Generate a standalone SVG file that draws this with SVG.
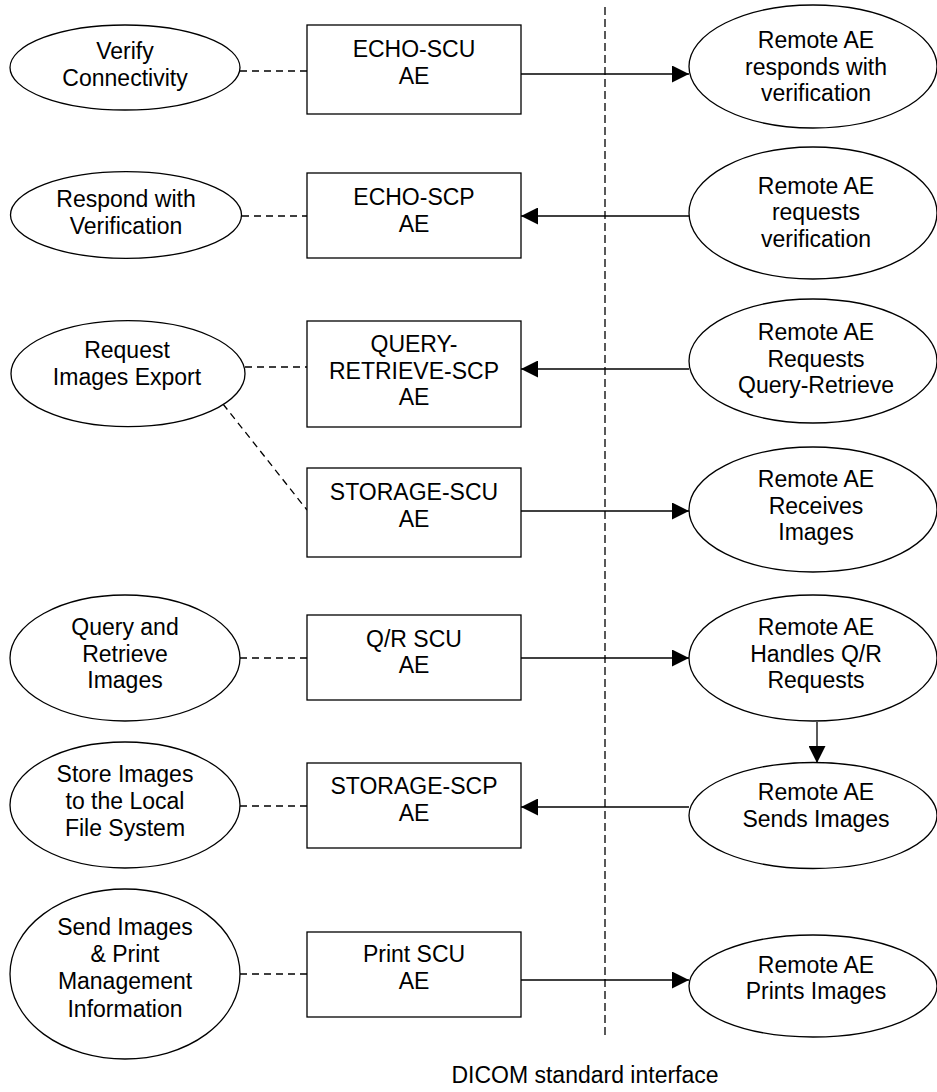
<svg xmlns="http://www.w3.org/2000/svg" width="937" height="1092" viewBox="0 0 937 1092">
<style>
.n{fill:#fff;stroke:#000;stroke-width:1.3}
.t{font-family:"Liberation Sans",Arial,sans-serif;font-size:23px;fill:#000;text-anchor:middle}
.d{fill:none;stroke:#000;stroke-width:1.3;stroke-dasharray:7 5}
.a{fill:none;stroke:#000;stroke-width:1.3;marker-end:url(#ah)}
</style>
<defs>
<marker id="ah" viewBox="0 0 17 17" refX="17" refY="8.5" markerWidth="17" markerHeight="17" markerUnits="userSpaceOnUse" orient="auto">
<path d="M0,0 L17,8.5 L0,17 z" fill="#000"/>
</marker>
</defs>
<rect width="937" height="1092" fill="#fff"/>
<g id="connectors">
<line x1="605" y1="7" x2="605" y2="1037" fill="none" stroke="#000" stroke-width="1.3" stroke-dasharray="8 4"/>
<line class="d" x1="240" y1="71" x2="307" y2="71"/>
<line class="d" x1="242" y1="216" x2="307" y2="216"/>
<line class="d" x1="245" y1="367" x2="307" y2="367"/>
<line class="d" x1="223" y1="404" x2="307" y2="510"/>
<line class="d" x1="240" y1="658" x2="307" y2="658"/>
<line class="d" x1="240" y1="806" x2="307" y2="806"/>
<line class="d" x1="240" y1="974" x2="307" y2="974"/>
<line class="a" x1="521" y1="74" x2="689" y2="74"/>
<line class="a" x1="689" y1="216" x2="521" y2="216"/>
<line class="a" x1="689" y1="369" x2="521" y2="369"/>
<line class="a" x1="521" y1="511" x2="689" y2="511"/>
<line class="a" x1="521" y1="658" x2="689" y2="658"/>
<line class="a" x1="817" y1="722" x2="817" y2="763"/>
<line class="a" x1="689" y1="807" x2="521" y2="807"/>
<line class="a" x1="521" y1="980" x2="689" y2="980"/>
</g>
<g id="verify">
<ellipse class="n" cx="125" cy="67.5" rx="115" ry="42.5"/>
<text class="t" x="125" y="59">Verify</text>
<text class="t" x="125" y="86">Connectivity</text>
</g>
<g id="echo-scu">
<rect class="n" x="307" y="25" width="214" height="89"/>
<text class="t" x="414" y="57">ECHO-SCU</text>
<text class="t" x="414" y="83.5">AE</text>
</g>
<g id="remote-verify-resp">
<ellipse class="n" cx="813" cy="66.5" rx="124" ry="61.5"/>
<text class="t" x="816" y="48">Remote AE</text>
<text class="t" x="816" y="74.5">responds with</text>
<text class="t" x="816" y="101">verification</text>
</g>
<g id="respond">
<ellipse class="n" cx="126" cy="215" rx="115.5" ry="43.3"/>
<text class="t" x="126" y="207">Respond with</text>
<text class="t" x="126" y="233.5">Verification</text>
</g>
<g id="echo-scp">
<rect class="n" x="307" y="173" width="214" height="85"/>
<text class="t" x="414" y="205">ECHO-SCP</text>
<text class="t" x="414" y="231.5">AE</text>
</g>
<g id="remote-verify-req">
<ellipse class="n" cx="813" cy="213" rx="124" ry="66"/>
<text class="t" x="816" y="193.5">Remote AE</text>
<text class="t" x="816" y="220">requests</text>
<text class="t" x="816" y="246.5">verification</text>
</g>
<g id="request-export">
<ellipse class="n" cx="128" cy="373.7" rx="117" ry="53"/>
<text class="t" x="127" y="358.3">Request</text>
<text class="t" x="127" y="385">Images Export</text>
</g>
<g id="qr-scp">
<rect class="n" x="307" y="321" width="214" height="106"/>
<text class="t" x="414" y="352">QUERY-</text>
<text class="t" x="414" y="378.5">RETRIEVE-SCP</text>
<text class="t" x="414" y="405">AE</text>
</g>
<g id="remote-qr-req">
<ellipse class="n" cx="813" cy="361" rx="124" ry="62"/>
<text class="t" x="816" y="340">Remote AE</text>
<text class="t" x="816" y="366.7">Requests</text>
<text class="t" x="816" y="393">Query-Retrieve</text>
</g>
<g id="storage-scu">
<rect class="n" x="307" y="468" width="214" height="89"/>
<text class="t" x="414" y="500">STORAGE-SCU</text>
<text class="t" x="414" y="526.7">AE</text>
</g>
<g id="remote-receives">
<ellipse class="n" cx="813" cy="509.5" rx="124" ry="62.5"/>
<text class="t" x="816" y="487">Remote AE</text>
<text class="t" x="816" y="513.5">Receives</text>
<text class="t" x="816" y="540">Images</text>
</g>
<g id="query-retrieve">
<ellipse class="n" cx="125" cy="658" rx="115" ry="63"/>
<text class="t" x="125" y="635">Query and</text>
<text class="t" x="125" y="661.7">Retrieve</text>
<text class="t" x="125" y="688.3">Images</text>
</g>
<g id="qr-scu">
<rect class="n" x="307" y="615" width="214" height="85"/>
<text class="t" x="414" y="646.7">Q/R SCU</text>
<text class="t" x="414" y="673.3">AE</text>
</g>
<g id="remote-handles">
<ellipse class="n" cx="813" cy="658" rx="124" ry="63"/>
<text class="t" x="816" y="634.5">Remote AE</text>
<text class="t" x="816" y="661.5">Handles Q/R</text>
<text class="t" x="816" y="688.3">Requests</text>
</g>
<g id="store-local">
<ellipse class="n" cx="125" cy="805" rx="115" ry="63"/>
<text class="t" x="125" y="782">Store Images</text>
<text class="t" x="125" y="809">to the Local</text>
<text class="t" x="125" y="836">File System</text>
</g>
<g id="storage-scp">
<rect class="n" x="307" y="763" width="214" height="85"/>
<text class="t" x="414" y="794">STORAGE-SCP</text>
<text class="t" x="414" y="821">AE</text>
</g>
<g id="remote-sends">
<ellipse class="n" cx="813" cy="815.5" rx="124" ry="53"/>
<text class="t" x="816" y="800">Remote AE</text>
<text class="t" x="816" y="826.7">Sends Images</text>
</g>
<g id="send-print">
<ellipse class="n" cx="125" cy="974" rx="115" ry="85"/>
<text class="t" x="125" y="935">Send Images</text>
<text class="t" x="125" y="962.3">&amp; Print</text>
<text class="t" x="125" y="989.3">Management</text>
<text class="t" x="125" y="1016.5">Information</text>
</g>
<g id="print-scu">
<rect class="n" x="307" y="932" width="214" height="85"/>
<text class="t" x="414" y="962">Print SCU</text>
<text class="t" x="414" y="988.5">AE</text>
</g>
<g id="remote-prints">
<ellipse class="n" cx="813" cy="986" rx="124" ry="51"/>
<text class="t" x="816" y="972.7">Remote AE</text>
<text class="t" x="816" y="999">Prints Images</text>
</g>
<g id="label">
<text class="t" x="585" y="1083">DICOM standard interface</text>
</g>
</svg>
